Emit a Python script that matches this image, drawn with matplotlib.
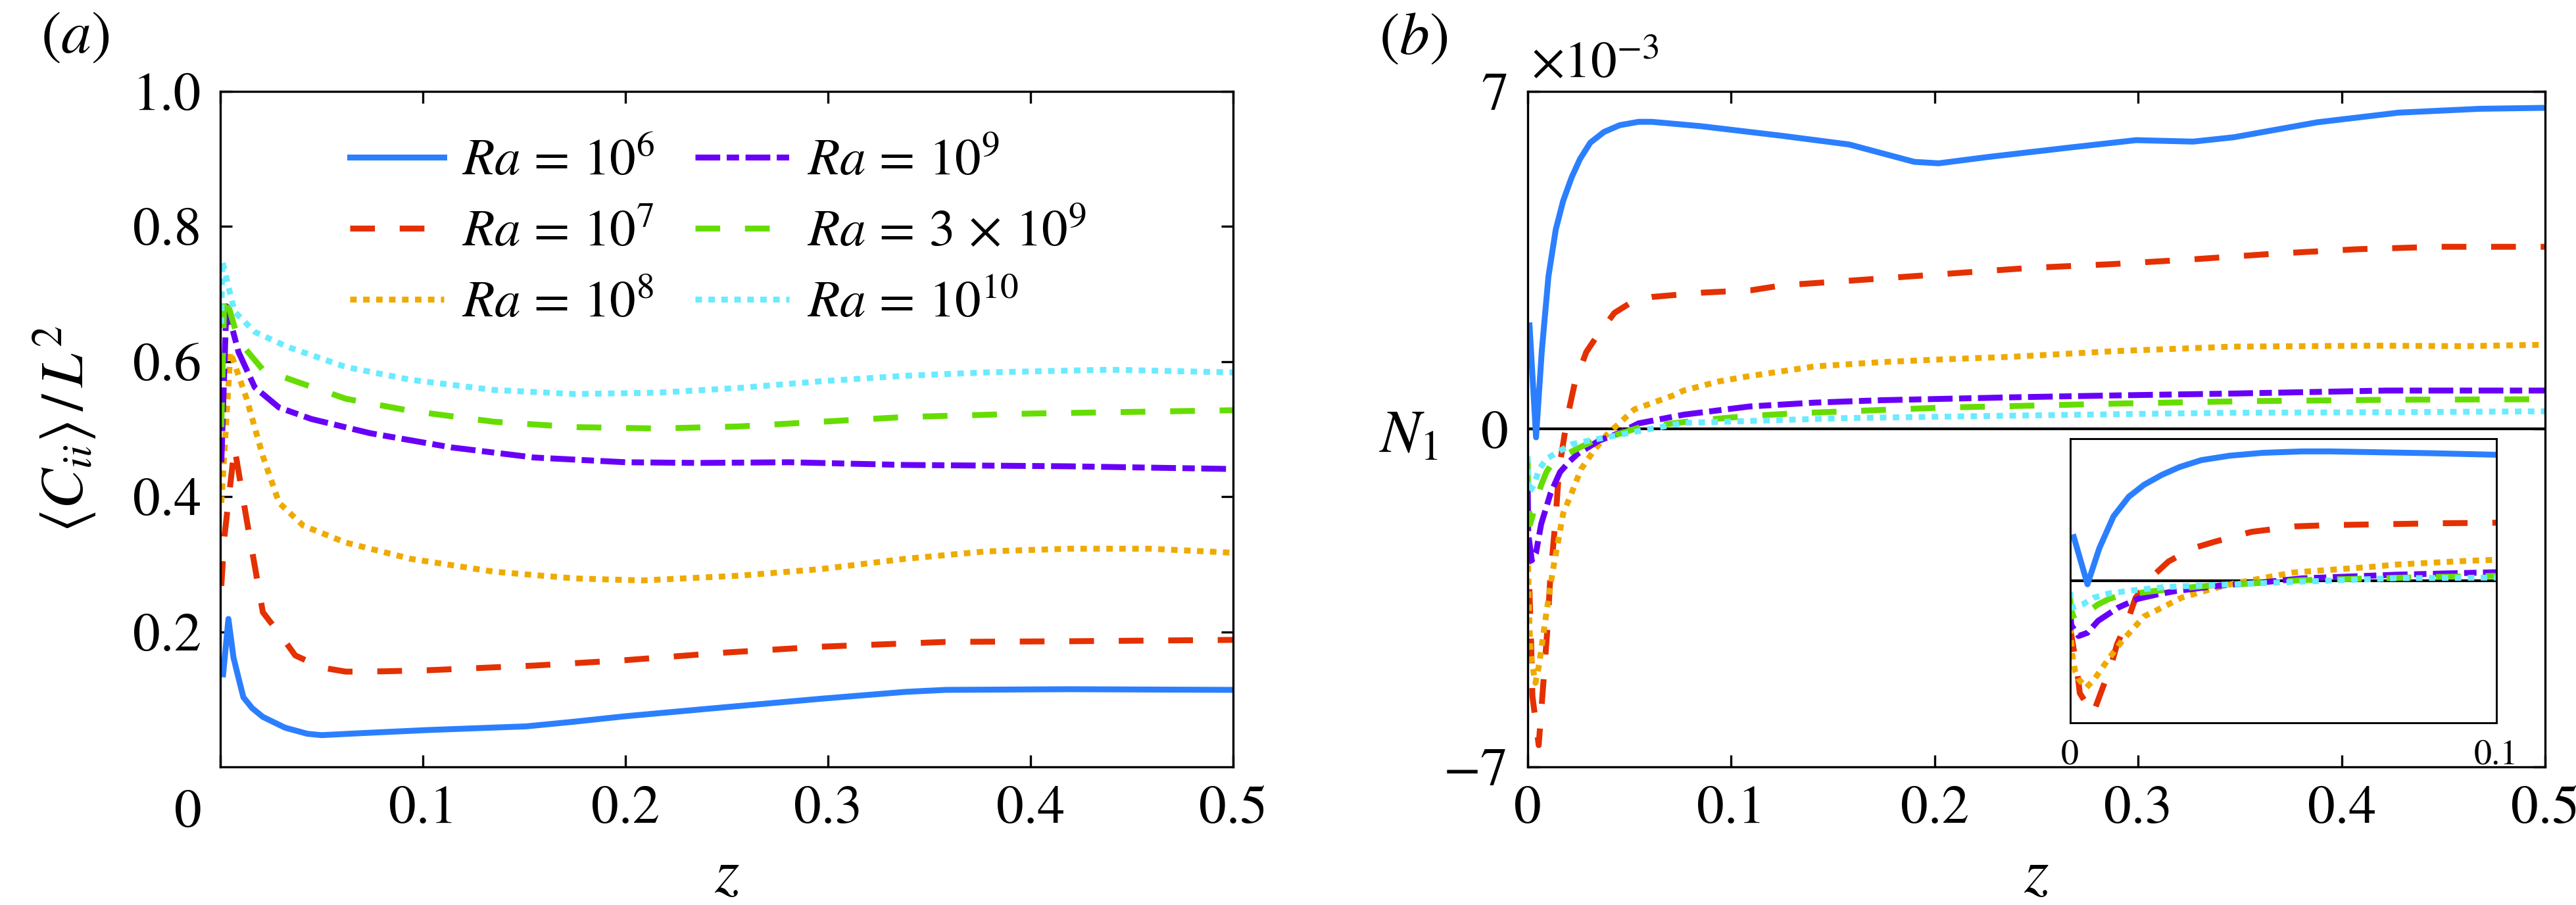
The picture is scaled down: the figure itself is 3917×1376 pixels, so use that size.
import numpy as np
import matplotlib
matplotlib.use("Agg")
import matplotlib.pyplot as plt

plt.rcParams['font.family'] = 'serif'
plt.rcParams['font.serif'] = ['STIXGeneral', 'Liberation Serif', 'DejaVu Serif']
plt.rcParams['mathtext.fontset'] = 'stix'

# ---- data ----
labels = [r'$Ra\,=\,10^6$', r'$Ra\,=\,10^7$', r'$Ra\,=\,10^8$',
          r'$Ra\,=\,10^9$', r'$Ra\,=\,3\,\times\,10^9$', r'$Ra\,=\,10^{10}$']
colors = ['#2B7FFF', '#E53000', '#EFAA00', '#6800F8', '#66DD00', '#6AEBFF']
styles = ['-', (0, (4.2, 4.2)), (0, (1.1, 1.1)), (0, (4.2, 1.1, 2.1, 1.1)),
          (0, (4.2, 4.2)), (0, (1.1, 1.1))]

# panel (a): <C_ii>/L^2 vs z
za_1e6 = [0.0014, 0.004, 0.0065, 0.0092, 0.0114, 0.0157, 0.021, 0.032, 0.043, 0.050, 0.070,
          0.102, 0.151, 0.175, 0.200, 0.248, 0.297, 0.338, 0.358, 0.419, 0.500]
ca_1e6 = [0.137, 0.219, 0.162, 0.129, 0.103, 0.087, 0.074, 0.058, 0.049, 0.047, 0.050,
          0.0545, 0.060, 0.067, 0.075, 0.088, 0.101, 0.111, 0.114, 0.115, 0.114]
za_1e7 = [0.0005, 0.002, 0.007, 0.013, 0.021, 0.031, 0.037, 0.050, 0.062, 0.081, 0.102,
          0.155, 0.200, 0.248, 0.297, 0.358, 0.419, 0.500]
ca_1e7 = [0.268, 0.34, 0.473, 0.366, 0.229, 0.19, 0.165, 0.147, 0.141, 0.1415, 0.143,
          0.150, 0.158, 0.169, 0.178, 0.185, 0.186, 0.188]
za_1e8 = [0.0005, 0.005, 0.013, 0.021, 0.029, 0.041, 0.062, 0.094, 0.135, 0.175, 0.208,
          0.256, 0.297, 0.338, 0.378, 0.419, 0.459, 0.500]
ca_1e8 = [0.391, 0.614, 0.545, 0.460, 0.391, 0.357, 0.332, 0.308, 0.289, 0.279, 0.276,
          0.283, 0.293, 0.308, 0.319, 0.323, 0.323, 0.317]
za_1e9 = [0.0005, 0.003, 0.009, 0.017, 0.029, 0.045, 0.074, 0.114, 0.155, 0.200, 0.236,
          0.281, 0.338, 0.419, 0.500]
ca_1e9 = [0.451, 0.682, 0.614, 0.562, 0.532, 0.515, 0.494, 0.473, 0.458, 0.451, 0.450,
          0.451, 0.447, 0.445, 0.441]
za_3e9 = [0.0005, 0.002, 0.009, 0.021, 0.037, 0.062, 0.094, 0.135, 0.175, 0.216, 0.256,
          0.297, 0.338, 0.399, 0.500]
ca_3e9 = [0.503, 0.703, 0.631, 0.588, 0.571, 0.545, 0.527, 0.511, 0.503, 0.501, 0.504,
          0.511, 0.518, 0.523, 0.528]
za_1e10 = [0.0005, 0.001, 0.007, 0.017, 0.033, 0.062, 0.094, 0.135, 0.175, 0.216, 0.256,
           0.297, 0.338, 0.378, 0.439, 0.500]
ca_1e10 = [0.656, 0.749, 0.674, 0.644, 0.622, 0.592, 0.573, 0.558, 0.552, 0.554, 0.561,
           0.571, 0.579, 0.584, 0.588, 0.584]

# panel (b): N_1 (x 1e-3) vs z
zb_1e6 = [0.0009, 0.0041, 0.0069, 0.0102, 0.0138, 0.0174, 0.0216, 0.0257, 0.0308, 0.0375,
          0.0452, 0.0545, 0.061, 0.085, 0.125, 0.158, 0.174, 0.190, 0.202, 0.226, 0.267,
          0.299, 0.327, 0.347, 0.388, 0.428, 0.468, 0.500]
nb_1e6 = [2.15, -0.17, 1.61, 3.17, 4.14, 4.73, 5.22, 5.60, 5.94, 6.16,
          6.30, 6.37, 6.37, 6.28, 6.08, 5.90, 5.72, 5.54, 5.51, 5.64, 5.84,
          5.99, 5.96, 6.05, 6.36, 6.56, 6.64, 6.66]
zb_1e7 = [0.0, 0.0007, 0.0017, 0.0023, 0.0054, 0.0074, 0.0097, 0.011, 0.0138, 0.0154,
          0.0195, 0.0231, 0.0288, 0.0339, 0.0426, 0.0529, 0.061, 0.086, 0.11, 0.125,
          0.166, 0.206, 0.246, 0.287, 0.327, 0.368, 0.408, 0.448, 0.500]
nb_1e7 = [-2.29, -3.15, -4.45, -5.53, -6.55, -5.42, -4.13, -3.15, -1.80, -0.83,
          0.25, 0.95, 1.60, 1.92, 2.41, 2.68, 2.74, 2.83, 2.88, 2.98,
          3.10, 3.22, 3.34, 3.42, 3.52, 3.64, 3.73, 3.78, 3.78]
zb_1e8 = [0.0, 0.0005, 0.0012, 0.002, 0.0038, 0.0056, 0.0092, 0.0123, 0.0149, 0.0174,
          0.0216, 0.0262, 0.0324, 0.0385, 0.0442, 0.0524, 0.0584, 0.071, 0.0766, 0.094,
          0.109, 0.141, 0.174, 0.206, 0.238, 0.29, 0.346, 0.417, 0.46, 0.500]
nb_1e8 = [-2.29, -3.59, -4.45, -4.83, -5.26, -4.88, -3.80, -2.94, -2.34, -1.75,
          -1.32, -0.83, -0.45, -0.13, 0.09, 0.41, 0.50, 0.69, 0.80, 0.99,
          1.10, 1.30, 1.39, 1.45, 1.50, 1.62, 1.71, 1.73, 1.72, 1.75]
zb_1e9 = [0.0, 0.0003, 0.002, 0.0041, 0.0066, 0.0113, 0.0159, 0.0205, 0.0246, 0.035,
          0.045, 0.0545, 0.0766, 0.109, 0.141, 0.174, 0.206, 0.238, 0.29, 0.349, 0.422, 0.500]
nb_1e9 = [-1.21, -2.18, -2.72, -2.56, -1.97, -1.32, -0.89, -0.67, -0.51, -0.24,
          -0.08, 0.12, 0.30, 0.47, 0.55, 0.60, 0.63, 0.66, 0.70, 0.74, 0.80, 0.80]
zb_3e9 = [0.0, 0.0002, 0.0012, 0.0066, 0.0092, 0.0118, 0.0195, 0.0246, 0.0324, 0.0426,
          0.0545, 0.083, 0.108, 0.132, 0.157, 0.181, 0.206, 0.230, 0.29, 0.353, 0.427, 0.500]
nb_3e9 = [-0.67, -1.4, -1.97, -1.16, -0.89, -0.72, -0.51, -0.40, -0.24, -0.13,
          0.03, 0.18, 0.27, 0.33, 0.37, 0.41, 0.45, 0.47, 0.53, 0.58, 0.61, 0.62]
zb_1e10 = [0.0, 0.0005, 0.003, 0.0056, 0.0092, 0.0144, 0.022, 0.0298, 0.040, 0.0545,
           0.0766, 0.109, 0.157, 0.206, 0.238, 0.29, 0.346, 0.42, 0.500]
nb_1e10 = [-0.56, -1.32, -1.16, -0.83, -0.62, -0.48, -0.31, -0.24, -0.16, -0.04,
           0.13, 0.17, 0.23, 0.26, 0.28, 0.31, 0.34, 0.35, 0.37]

za = [za_1e6, za_1e7, za_1e8, za_1e9, za_3e9, za_1e10]
ca = [ca_1e6, ca_1e7, ca_1e8, ca_1e9, ca_3e9, ca_1e10]
zb = [zb_1e6, zb_1e7, zb_1e8, zb_1e9, zb_3e9, zb_1e10]
nb = [nb_1e6, nb_1e7, nb_1e8, nb_1e9, nb_3e9, nb_1e10]

W, H = 3917, 1376
fig = plt.figure(figsize=(W / 300, H / 300), dpi=300)
ax1 = fig.add_axes([335 / W, 1 - 1166 / H, 1540 / W, 1027 / H])
ax2 = fig.add_axes([2323 / W, 1 - 1166 / H, 1547 / W, 1027 / H])

lw = 2.15
tick_fs = 20

for a in (ax1, ax2):
    for s in a.spines.values():
        s.set_linewidth(0.8)
    a.tick_params(direction='in', top=True, right=True, length=4.3, width=0.8,
                  labelsize=tick_fs, pad=7)

# ---- panel (a) ----
handles = []
for i in range(6):
    h, = ax1.plot(za[i], ca[i], color=colors[i], ls=styles[i], lw=lw)
    handles.append(h)
ax1.set_xlim(0, 0.5)
ax1.set_ylim(0, 1.0)
ax1.set_xticks([0, 0.1, 0.2, 0.3, 0.4, 0.5])
ax1.set_xticklabels(['', '0.1', '0.2', '0.3', '0.4', '0.5'])
ax1.set_yticks([0.2, 0.4, 0.6, 0.8, 1.0])
ax1.set_yticklabels(['0.2', '0.4', '0.6', '0.8', '1.0'])
ax1.text(-0.032, -0.0335, '0', transform=ax1.transAxes, ha='center', va='top',
         fontsize=tick_fs)
ax1.set_xlabel(r'$z$', fontsize=23, va='baseline')
ax1.xaxis.set_label_coords(0.5, -0.185)
ax1.set_ylabel(r'$\langle C_{ii} \rangle \, / \, L^2$', fontsize=22, va='center')
ax1.yaxis.set_label_coords(-0.153, 0.5)

leg_kw = dict(loc='upper left', frameon=False, fontsize=19, handlelength=1.8,
              handletextpad=0.35, labelspacing=0.45, borderpad=0, borderaxespad=0)
leg1 = ax1.legend(handles[:3], labels[:3], bbox_to_anchor=(0.128, 0.93), **leg_kw)
ax1.add_artist(leg1)
ax1.legend(handles[3:], labels[3:], bbox_to_anchor=(0.469, 0.93), **leg_kw)

# ---- panel (b) ----
ax2.axhline(0, color='k', lw=1.0, zorder=1)
for i in range(6):
    ax2.plot(zb[i], nb[i], color=colors[i], ls=styles[i], lw=lw, zorder=2)
ax2.set_xlim(0, 0.5)
ax2.set_ylim(-7, 7)
ax2.set_xticks([0, 0.1, 0.2, 0.3, 0.4, 0.5])
ax2.set_xticklabels(['0', '0.1', '0.2', '0.3', '0.4', '0.5'])
ax2.set_yticks([-7, 0, 7])
ax2.set_yticklabels(['\u22127', '0', '7'])
ax2.set_xlabel(r'$z$', fontsize=23, va='baseline')
ax2.xaxis.set_label_coords(0.5, -0.185)
ax2.text(-0.146, 0.467, r'$N_1$', transform=ax2.transAxes, ha='left', va='baseline',
         fontsize=22)
ax2.text(0.003, 1.0204, r'$\times 10^{-3}$', transform=ax2.transAxes, ha='left',
         va='baseline', fontsize=19)

# inset: zoom on the near-wall region
axin = ax2.inset_axes([0.533, 0.065, 0.419, 0.421])
axin.axhline(0, color='k', lw=1.0, zorder=1)
for i in range(6):
    axin.plot(zb[i], nb[i], color=colors[i], ls=styles[i], lw=lw, zorder=2)
axin.set_xlim(0, 0.1)
axin.set_ylim(-7, 7)
axin.set_xticks([0, 0.1])
axin.set_xticklabels(['0', '0.1'])
axin.set_yticks([])
axin.tick_params(length=0, labelsize=13, pad=6)
for s in axin.spines.values():
    s.set_linewidth(0.7)

fig.text(62 / W, 1 - 18 / H, r'$(a)$', ha='left', va='top', fontsize=22)
fig.text(2097 / W, 1 - 20 / H, r'$(b)$', ha='left', va='top', fontsize=22)

fig.savefig('out.png', dpi=300)
